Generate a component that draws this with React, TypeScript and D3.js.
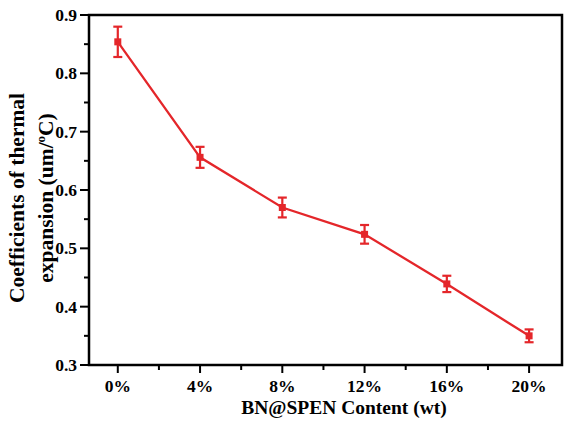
import React, { useEffect, useRef } from 'react';
import * as d3 from 'd3';

// content in wt%, CTE values and error half-widths
const contents = [0, 4, 8, 12, 16, 20];
const cte = [0.854, 0.656, 0.570, 0.524, 0.439, 0.350];
const errs = [0.026, 0.018, 0.017, 0.016, 0.014, 0.011];
const yTicks = [0.3, 0.4, 0.5, 0.6, 0.7, 0.8, 0.9];

const RED = '#e4262a';
const FONT = '"Liberation Serif", "Times New Roman", serif';

const App: React.FC = () => {
  const svgRef = useRef<SVGSVGElement>(null);

  useEffect(() => {
    if (!svgRef.current) return;
    const svg = d3.select(svgRef.current);
    svg.selectAll('*').remove();

    const margin = { top: 15, right: 8, bottom: 57, left: 89 };
    const W = 570, H = 422;
    const width = W - margin.left - margin.right;
    const height = H - margin.top - margin.bottom;

    const g = svg.append('g').attr('transform', `translate(${margin.left},${margin.top})`);

    const x = d3.scaleLinear().domain([-1.4, 21.6]).range([0, width]);
    const y = d3.scaleLinear().domain([0.3, 0.9]).range([height, 0]);

    // frame
    g.append('rect')
      .attr('width', width)
      .attr('height', height)
      .attr('fill', 'none')
      .attr('stroke', '#000')
      .attr('stroke-width', 2.5);

    // x axis
    const xMinor = contents.slice(0, -1).map(d => d + 2);
    const xAxis = g.append('g').attr('transform', `translate(0,${height})`);
    xAxis.selectAll('.maj').data(contents).enter().append('line')
      .attr('x1', d => x(d)).attr('x2', d => x(d))
      .attr('y1', 0).attr('y2', 8)
      .attr('stroke', '#000').attr('stroke-width', 2);
    xAxis.selectAll('.min').data(xMinor).enter().append('line')
      .attr('x1', d => x(d)).attr('x2', d => x(d))
      .attr('y1', 0).attr('y2', 5)
      .attr('stroke', '#000').attr('stroke-width', 2);
    xAxis.selectAll('text').data(contents).enter().append('text')
      .attr('x', d => x(d))
      .attr('y', 27)
      .attr('text-anchor', 'middle')
      .style('font-family', FONT)
      .style('font-weight', 'bold')
      .style('font-size', '17.5px')
      .text(d => `${d}%`);

    // y axis
    const yMinor = yTicks.slice(0, -1).map(d => d + 0.05);
    const yAxis = g.append('g');
    yAxis.selectAll('.maj').data(yTicks).enter().append('line')
      .attr('x1', -9).attr('x2', 0)
      .attr('y1', d => y(d)).attr('y2', d => y(d))
      .attr('stroke', '#000').attr('stroke-width', 2);
    yAxis.selectAll('.min').data(yMinor).enter().append('line')
      .attr('x1', -5).attr('x2', 0)
      .attr('y1', d => y(d)).attr('y2', d => y(d))
      .attr('stroke', '#000').attr('stroke-width', 2);
    yAxis.selectAll('text').data(yTicks).enter().append('text')
      .attr('x', -12)
      .attr('y', d => y(d))
      .attr('dy', '0.35em')
      .attr('text-anchor', 'end')
      .style('font-family', FONT)
      .style('font-weight', 'bold')
      .style('font-size', '17.5px')
      .text(d => d.toFixed(1));

    // line
    const line = d3.line<number>()
      .x((_, i) => x(contents[i]))
      .y(d => y(d));
    g.append('path')
      .datum(cte)
      .attr('d', line)
      .attr('fill', 'none')
      .attr('stroke', RED)
      .attr('stroke-width', 2.3);

    // error bars
    const cap = 4.5;
    const eb = g.selectAll('.eb').data(cte).enter().append('g');
    eb.append('line')
      .attr('x1', (_, i) => x(contents[i])).attr('x2', (_, i) => x(contents[i]))
      .attr('y1', (d, i) => y(d + errs[i])).attr('y2', (d, i) => y(d - errs[i]))
      .attr('stroke', RED).attr('stroke-width', 2.2);
    eb.append('line')
      .attr('x1', (_, i) => x(contents[i]) - cap).attr('x2', (_, i) => x(contents[i]) + cap)
      .attr('y1', (d, i) => y(d + errs[i])).attr('y2', (d, i) => y(d + errs[i]))
      .attr('stroke', RED).attr('stroke-width', 2.2);
    eb.append('line')
      .attr('x1', (_, i) => x(contents[i]) - cap).attr('x2', (_, i) => x(contents[i]) + cap)
      .attr('y1', (d, i) => y(d - errs[i])).attr('y2', (d, i) => y(d - errs[i]))
      .attr('stroke', RED).attr('stroke-width', 2.2);
    eb.append('rect')
      .attr('x', (_, i) => x(contents[i]) - 3.5)
      .attr('y', d => y(d) - 3.5)
      .attr('width', 7).attr('height', 7)
      .attr('fill', RED);

    // axis titles
    svg.append('text')
      .attr('x', 344)
      .attr('y', 414)
      .attr('text-anchor', 'middle')
      .style('font-family', FONT)
      .style('font-weight', 'bold')
      .style('font-size', '19.5px')
      .text('BN@SPEN Content (wt)');

    const yt = svg.append('text')
      .attr('transform', 'translate(24,198) rotate(-90)')
      .attr('text-anchor', 'middle')
      .style('font-family', FONT)
      .style('font-weight', 'bold')
      .style('font-size', '21.5px');
    yt.append('tspan').attr('x', 0).attr('y', 0).text('Coefficients of thermal');
    const l2 = yt.append('tspan').attr('x', 0).attr('y', 29);
    l2.append('tspan').text('expansion (um/');
    l2.append('tspan').attr('dy', -8).style('font-size', '13px').text('o');
    l2.append('tspan').attr('dy', 8).text('C)');
  }, []);

  return (
    <div style={{ position: 'absolute', left: 0, top: 0, background: '#fff' }}>
      <svg ref={svgRef} width={570} height={422} style={{ display: 'block' }} />
    </div>
  );
};

export default App;
